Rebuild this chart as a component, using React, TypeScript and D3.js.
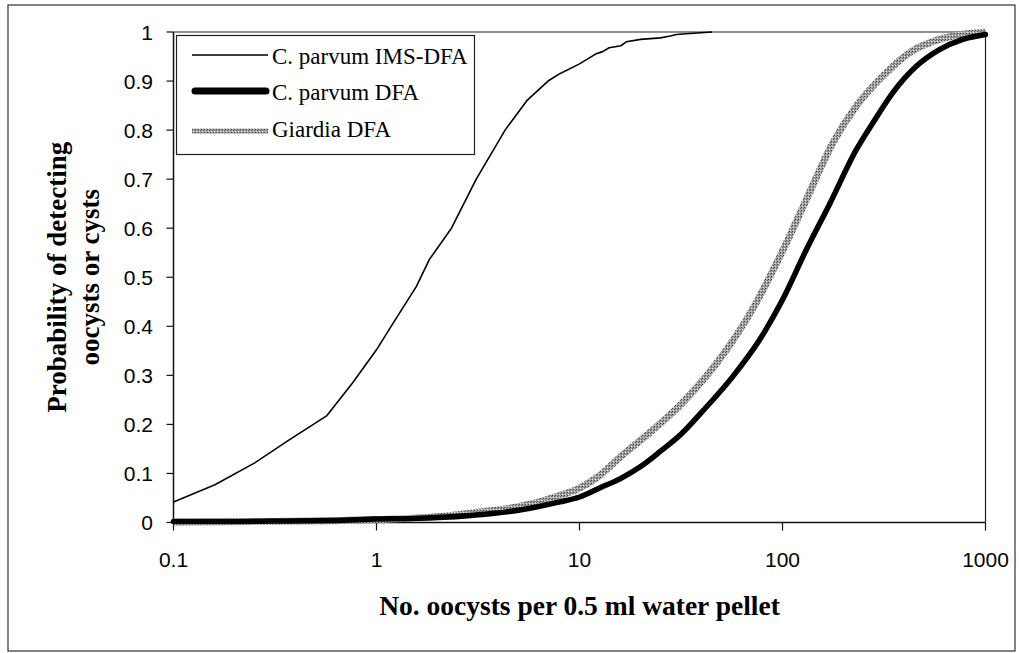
import React from "react";
import * as d3 from "d3";

const xTicks = [0.1, 1, 10, 100, 1000];
const xTickLabels = ["0.1", "1", "10", "100", "1000"];
const yTicks = [0, 0.1, 0.2, 0.3, 0.4, 0.5, 0.6, 0.7, 0.8, 0.9, 1];
const yTickLabels = ["0", "0.1", "0.2", "0.3", "0.4", "0.5", "0.6", "0.7", "0.8", "0.9", "1"];

const seriesNames = ["C. parvum IMS-DFA", "C. parvum DFA", "Giardia DFA"];

const imsX = [0.1, 0.16, 0.25, 0.37, 0.57, 0.76, 1.0, 1.18, 1.57, 1.82, 2.34, 3.1, 4.3, 5.5, 7, 8, 10, 12, 13, 14, 16, 17, 20, 25, 28, 30, 35, 45];
const imsP = [0.042, 0.077, 0.121, 0.168, 0.218, 0.284, 0.352, 0.4, 0.481, 0.536, 0.6, 0.7, 0.8, 0.86, 0.9, 0.915, 0.935, 0.955, 0.96, 0.968, 0.972, 0.98, 0.985, 0.988, 0.992, 0.995, 0.997, 1.0];

const dfaX = [0.1, 0.2, 0.3, 0.6, 1, 1.5, 2, 3, 5, 8, 10, 12.5, 16, 20, 25, 32, 40, 57, 77, 100, 131, 171, 231, 279, 349, 456, 593, 773, 1000];
const dfaP = [0.002, 0.002, 0.003, 0.004, 0.007, 0.008, 0.01, 0.015, 0.025, 0.042, 0.052, 0.07, 0.09, 0.114, 0.145, 0.182, 0.225, 0.298, 0.372, 0.454, 0.556, 0.65, 0.76, 0.815, 0.876, 0.93, 0.964, 0.985, 0.995];

const giaX = [0.1, 0.3, 0.5, 1, 2, 3, 5, 8, 10, 12.5, 16, 22, 32, 53, 71, 97, 131, 177, 231, 312, 423, 593, 800, 1000];
const giaP = [0.001, 0.002, 0.003, 0.006, 0.012, 0.02, 0.032, 0.055, 0.07, 0.095, 0.135, 0.182, 0.243, 0.352, 0.434, 0.542, 0.658, 0.774, 0.849, 0.91, 0.958, 0.985, 0.996, 1.0];

const W = 1019;
const H = 653;
const plotL = 173.5;
const plotR = 985.5;
const plotT = 32;
const plotB = 522.5;

export default function App() {
  const x = d3.scaleLog().domain([0.1, 1000]).range([plotL, plotR]);
  const y = d3.scaleLinear().domain([0, 1]).range([plotB, plotT]);

  const mk = (xs: number[], ps: number[], curve: d3.CurveFactory) =>
    d3
      .line<[number, number]>()
      .x((d) => x(d[0]))
      .y((d) => y(d[1]))
      .curve(curve)(xs.map((v, i) => [v, ps[i]] as [number, number])) || "";

  const imsPath = mk(imsX, imsP, d3.curveLinear);
  const dfaPath = mk(dfaX, dfaP, d3.curveMonotoneX);
  const giaPath = mk(giaX, giaP, d3.curveMonotoneX);

  const serif = '"Liberation Serif", "Times New Roman", serif';
  const sans = '"Liberation Sans", Arial, sans-serif';

  const legendY = [55, 91, 131];
  const legendTextY = [64, 100, 137];

  return (
    <svg
      width={W}
      height={H}
      style={{ position: "absolute", left: 0, top: 0, background: "#fff" }}
    >
      <defs>
        <pattern id="hatch" width="3" height="3" patternUnits="userSpaceOnUse">
          <rect width="3" height="3" fill="#a2a2a2" />
          <rect x="0" y="0" width="1" height="1" fill="#444" />
          <rect x="2" y="1" width="1" height="1" fill="#666" />
          <rect x="1" y="2" width="1" height="1" fill="#e4e4e4" />
        </pattern>
      </defs>
      <rect x={0} y={0} width={W} height={H} fill="#fff" />
      {/* outer frame */}
      <rect x={8} y={5} width={1007} height={646} fill="none" stroke="#333" strokeWidth={1.2} />

      {/* plot box */}
      <line x1={plotL} x2={plotR} y1={plotT} y2={plotT} stroke="#222" strokeWidth={1.2} />
      <line x1={plotR} x2={plotR} y1={plotT} y2={plotB} stroke="#222" strokeWidth={1.2} />
      <line x1={plotL} x2={plotL} y1={plotT} y2={plotB} stroke="#111" strokeWidth={1.5} />
      <line x1={plotL} x2={plotR} y1={plotB} y2={plotB} stroke="#111" strokeWidth={1.5} />

      {/* y ticks */}
      {yTicks.map((t, i) => (
        <g key={"y" + i}>
          <line x1={plotL - 7} x2={plotL} y1={y(t)} y2={y(t)} stroke="#111" strokeWidth={1.2} />
          <text
            x={153}
            y={y(t)}
            textAnchor="end"
            dominantBaseline="central"
            fontFamily={sans}
            fontSize={21}
            fill="#000"
          >
            {yTickLabels[i]}
          </text>
        </g>
      ))}

      {/* x ticks */}
      {xTicks.map((t, i) => (
        <g key={"x" + i}>
          <line x1={x(t)} x2={x(t)} y1={plotB} y2={plotB + 8} stroke="#111" strokeWidth={1.2} />
          <text
            x={x(t)}
            y={567}
            textAnchor="middle"
            fontFamily={sans}
            fontSize={21}
            fill="#000"
          >
            {xTickLabels[i]}
          </text>
        </g>
      ))}

      {/* curves */}
      <path d={giaPath} fill="none" stroke="url(#hatch)" strokeWidth={7} strokeLinejoin="round" />
      <path d={dfaPath} fill="none" stroke="#000" strokeWidth={5.5} strokeLinejoin="round" strokeLinecap="round" />
      <path d={imsPath} fill="none" stroke="#000" strokeWidth={1.6} strokeLinejoin="round" />

      {/* legend */}
      <rect x={176.5} y={35.5} width={298} height={119} fill="#fff" stroke="#222" strokeWidth={1.2} />
      <line x1={192} x2={268} y1={legendY[0]} y2={legendY[0]} stroke="#000" strokeWidth={1.6} />
      <line x1={195} x2={266} y1={legendY[1]} y2={legendY[1]} stroke="#000" strokeWidth={7} strokeLinecap="round" />
      <line x1={192} x2={268} y1={legendY[2]} y2={legendY[2]} stroke="url(#hatch)" strokeWidth={5} />
      {seriesNames.map((s, i) => (
        <text
          key={s}
          x={272}
          y={legendTextY[i]}
          fontFamily={serif}
          fontSize={23}
          fill="#000"
        >
          {s}
        </text>
      ))}

      {/* axis titles */}
      <text
        x={(plotL + plotR) / 2}
        y={615}
        textAnchor="middle"
        fontFamily={serif}
        fontWeight="bold"
        fontSize={27.5}
        fill="#000"
      >
        No. oocysts per 0.5 ml water pellet
      </text>
      <g transform={`translate(66, ${(plotT + plotB) / 2}) rotate(-90)`}>
        <text x={0} y={0} textAnchor="middle" fontFamily={serif} fontWeight="bold" fontSize={27} fill="#000">
          Probability of detecting
        </text>
      </g>
      <g transform={`translate(99, ${(plotT + plotB) / 2}) rotate(-90)`}>
        <text x={0} y={0} textAnchor="middle" fontFamily={serif} fontWeight="bold" fontSize={27} fill="#000">
          oocysts or cysts
        </text>
      </g>
    </svg>
  );
}
